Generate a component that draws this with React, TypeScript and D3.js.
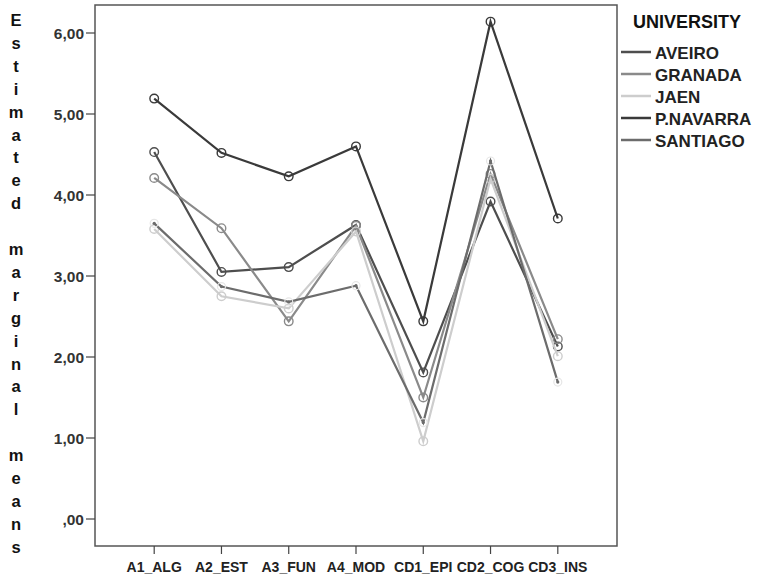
import * as d3 from "d3";

const categories = ["A1_ALG", "A2_EST", "A3_FUN", "A4_MOD", "CD1_EPI", "CD2_COG", "CD3_INS"];
const universities = ["AVEIRO", "GRANADA", "JAEN", "P.NAVARRA", "SANTIAGO"];

const aveiro = [4.53, 3.05, 3.11, 3.63, 1.81, 3.92, 2.13];
const granada = [4.21, 3.59, 2.44, 3.62, 1.5, 4.26, 2.22];
const jaen = [3.58, 2.75, 2.6, 3.55, 0.96, 4.2, 2.01];
const pNavarra = [5.19, 4.52, 4.23, 4.6, 2.44, 6.14, 3.71];
const santiago = [3.65, 2.87, 2.68, 2.88, 1.19, 4.42, 1.69];

const yTicks = [0, 1, 2, 3, 4, 5, 6];
const yLabel = "Estimated marginal means";

const W = 758;
const H = 576;
const left = 95;
const right = 617;
const top = 5;
const bottom = 546;

const series = [
  { name: "AVEIRO", values: aveiro, color: "#4e4e4e", dot: false },
  { name: "GRANADA", values: granada, color: "#8a8a8a", dot: false },
  { name: "JAEN", values: jaen, color: "#cdcdcd", dot: false },
  { name: "P.NAVARRA", values: pNavarra, color: "#3a3a3a", dot: false },
  { name: "SANTIAGO", values: santiago, color: "#6c6c6c", dot: true },
];

const fmt = (v: number) => (v === 0 ? ",00" : d3.format(".2f")(v).replace(".", ","));

export default function App() {
  const x = d3.scalePoint<string>().domain(categories).range([left, right]).padding(0.88);
  const y = d3.scaleLinear().domain([0, 6]).range([519, 33]);

  const line = d3
    .line<number>()
    .x((_, i) => x(categories[i]) as number)
    .y((d) => y(d));

  const font = "'Liberation Sans', Arial, sans-serif";
  const labelChars = yLabel.split("");

  return (
    <svg
      width={W}
      height={H}
      style={{ position: "absolute", left: 0, top: 0, background: "#fff" }}
      fontFamily={font}
    >
      <rect x={0} y={0} width={W} height={H} fill="#fff" />

      {/* y axis title, one letter per row */}
      {labelChars.map((c, i) => (
        <text
          key={i}
          x={16}
          y={20 + i * 22.9}
          textAnchor="middle"
          dominantBaseline="central"
          fontSize={16.5}
          fontWeight="bold"
          fill="#111"
        >
          {c}
        </text>
      ))}

      {/* frame */}
      <rect
        x={left}
        y={top}
        width={right - left}
        height={bottom - top}
        fill="none"
        stroke="#555"
        strokeWidth={1.5}
      />

      {/* y ticks */}
      {yTicks.map((t) => (
        <g key={t}>
          <line x1={left - 9} x2={left} y1={y(t)} y2={y(t)} stroke="#444" strokeWidth={1.2} />
          <text
            x={left - 11}
            y={y(t)}
            textAnchor="end"
            dominantBaseline="central"
            fontSize={15.5}
            fontWeight="bold"
            fill="#333"
          >
            {fmt(t)}
          </text>
        </g>
      ))}

      {/* x ticks */}
      {categories.map((c) => (
        <g key={c}>
          <line
            x1={x(c)}
            x2={x(c)}
            y1={bottom}
            y2={bottom + 8}
            stroke="#444"
            strokeWidth={1.2}
          />
          <text
            x={x(c)}
            y={567}
            textAnchor="middle"
            dominantBaseline="central"
            fontSize={14}
            fontWeight="bold"
            fill="#222"
          >
            {c}
          </text>
        </g>
      ))}

      {/* series */}
      {series.map((s) => (
        <g key={s.name}>
          <path d={line(s.values) ?? ""} fill="none" stroke={s.color} strokeWidth={2.2} />
          {s.values.map((v, i) =>
            s.dot ? (
              <g key={i}>
                <circle cx={x(categories[i])} cy={y(v)} r={4} fill="none" stroke="#e6e6e6" strokeWidth={1.2} />
                <circle cx={x(categories[i])} cy={y(v)} r={1.6} fill={s.color} />
              </g>
            ) : (
              <circle
                key={i}
                cx={x(categories[i])}
                cy={y(v)}
                r={4.3}
                fill="none"
                stroke={s.color}
                strokeWidth={1.4}
              />
            )
          )}
        </g>
      ))}

      {/* legend */}
      <text x={633} y={22} dominantBaseline="central" fontSize={18} fontWeight="bold" fill="#111">
        UNIVERSITY
      </text>
      {universities.map((u, i) => {
        const s = series.find((d) => d.name === u)!;
        const ly = 52 + i * 22;
        return (
          <g key={u}>
            <line x1={621} x2={651} y1={ly} y2={ly} stroke={s.color} strokeWidth={2.5} />
            <text
              x={655}
              y={ly + 1}
              dominantBaseline="central"
              fontSize={17}
              fontWeight="bold"
              fill="#222"
            >
              {u}
            </text>
          </g>
        );
      })}
    </svg>
  );
}
